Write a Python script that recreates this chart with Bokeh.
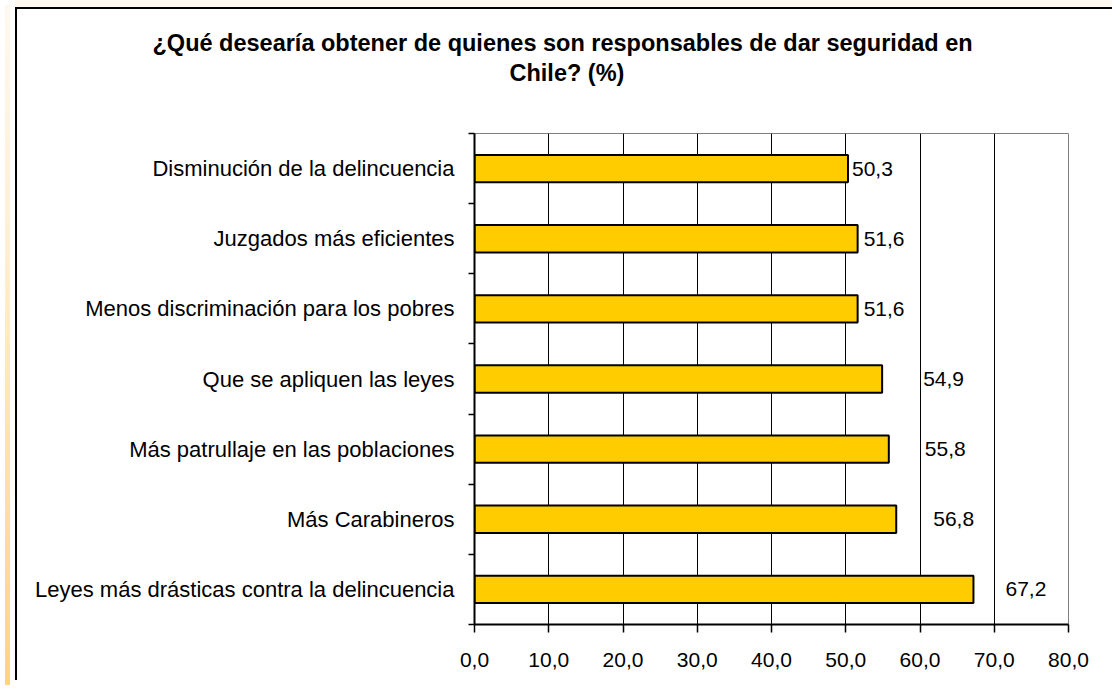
from bokeh.plotting import figure
from bokeh.models import ColumnDataSource, FixedTicker, Range1d, Title, Div
from bokeh.layouts import row
from bokeh.embed import file_html
from bokeh.resources import INLINE
from bokeh.core.properties import value

# ---- data (top to bottom as in the chart) ----
categories = [
    "Disminución de la delincuencia",
    "Juzgados más eficientes",
    "Menos discriminación para los pobres",
    "Que se apliquen las leyes",
    "Más patrullaje en las poblaciones",
    "Más Carabineros",
    "Leyes más drásticas contra la delincuencia",
]
values = [50.3, 51.6, 51.6, 54.9, 55.8, 56.8, 67.2]
value_labels = ["50,3", "51,6", "51,6", "54,9", "55,8", "56,8", "67,2"]
x_ticks = [0, 10, 20, 30, 40, 50, 60, 70, 80]
x_tick_labels = ["0,0", "10,0", "20,0", "30,0", "40,0", "50,0", "60,0", "70,0", "80,0"]
title_lines = [
    "¿Qué desearía obtener de quienes son responsables de dar seguridad en",
    "Chile? (%)",
]
# horizontal gap (px) between bar end and its value label, as placed in the original
label_gaps_px = [4, 6, 6, 41, 36, 37, 32]

FONT = "Liberation Sans"
n = len(categories)
ypos = [n - 1 - i for i in range(n)]

src = ColumnDataSource(dict(y=ypos, v=values, lab=value_labels, gap=label_gaps_px))

p = figure(
    width=1099, height=680,
    x_range=Range1d(0, 80), y_range=Range1d(-0.5, n - 0.5),
    output_backend="svg", toolbar_location=None,
    min_border_left=459, min_border_right=46,
    min_border_top=133, min_border_bottom=56,
)
p.border_fill_alpha = 0
p.background_fill_color = "white"
p.outline_line_color = "#808080"
p.outline_line_width = 1
# cream band on top, then the black chart-area border (left, top, right)
p.styles = {
    "background": (
        "linear-gradient(black, black) 0 7px / 100% 2px no-repeat, "
        "linear-gradient(black, black) 0 7px / 2px 100% no-repeat, "
        "linear-gradient(black, black) 100% 7px / 2px 100% no-repeat, "
        "linear-gradient(#FEF8EE, #FEF8EE) 0 0 / 100% 7px no-repeat, "
        "white"
    ),
}

# title: first line is the figure title (outermost); spacer and second line below it
title_style = dict(text_font=FONT, text_font_size="23.5px", text_font_style="bold",
                   text_color="black")
p.title.text = title_lines[0]
p.title.align = "left"
p.title.offset = -322
p.title.standoff = 0
for k, v in title_style.items():
    setattr(p.title, k, v)
# spacer nearest to the plot area
p.add_layout(Title(text=" ", text_font=FONT, text_font_size="10px", standoff=33), "above")
p.add_layout(Title(text=title_lines[1], align="left", offset=35, standoff=4, **title_style), "above")

# grid
p.ygrid.grid_line_color = None
p.xgrid.ticker = FixedTicker(ticks=x_ticks[1:-1])
p.xgrid.grid_line_color = "black"
p.xgrid.grid_line_width = 1

# bars
p.hbar(y="y", left=0, right="v", height=0.39, source=src,
       fill_color="#FFCC00", line_color="black", line_width=2)

# value labels
p.text(x="v", y="y", text="lab", x_offset="gap", source=src,
       text_font=value(FONT), text_font_size="21px", text_color="black",
       text_align="left", text_baseline="middle")

# x axis
xa = p.xaxis[0]
xa.ticker = FixedTicker(ticks=x_ticks)
xa.major_label_overrides = {t: l for t, l in zip(x_ticks, x_tick_labels)}
xa.axis_line_color = "black"
xa.axis_line_width = 2
xa.major_tick_in = 0
xa.major_tick_out = 8
xa.major_tick_line_color = "black"
xa.major_tick_line_width = 1.5
xa.minor_tick_line_color = None
xa.major_label_standoff = 20
xa.major_label_text_font = FONT
xa.major_label_text_font_size = "21px"
xa.major_label_text_color = "black"

# y axis (labels at bar centres, tick marks between categories)
ya = p.yaxis[0]
ya.ticker = FixedTicker(ticks=ypos, minor_ticks=[k - 0.5 for k in range(n + 1)])
ya.major_label_overrides = {y: c for y, c in zip(ypos, categories)}
ya.axis_line_color = "black"
ya.axis_line_width = 2
ya.major_tick_in = 0
ya.major_tick_out = 0
ya.minor_tick_in = 0
ya.minor_tick_out = 6
ya.minor_tick_line_color = "black"
ya.minor_tick_line_width = 1.5
ya.major_label_standoff = 14
ya.major_label_text_font = FONT
ya.major_label_text_font_size = "22px"
ya.major_label_text_color = "black"

left_strip = Div(text="", width=5, height=680,
                 styles={"background": "linear-gradient(to bottom, #FEF8EE 0%, #FEEFD6 35%, #FFD57A 100%)"})

layout = row(left_strip, p, spacing=0)

open("out.html", "w").write(file_html(layout, INLINE))
